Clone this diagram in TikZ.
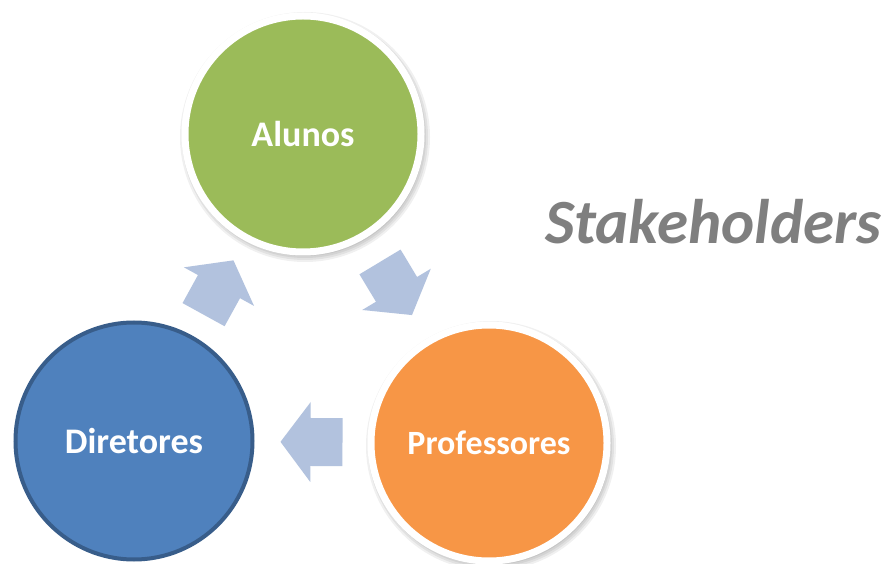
\documentclass[tikz,border=0pt]{standalone}
\usepackage{fontspec}
\setmainfont{Carlito}
\usetikzlibrary{calc}
\definecolor{agreen}{RGB}{155,187,89}
\definecolor{aorange}{RGB}{247,150,70}
\definecolor{ablue}{RGB}{79,129,189}
\definecolor{ablueborder}{RGB}{56,93,138}
\definecolor{aarrow}{RGB}{178,194,222}
\definecolor{atitle}{RGB}{127,127,127}
\tikzset{
  ring/.style={circle, inner sep=0pt, minimum size=236pt, draw=white, line width=7pt,
    text=white, font=\fontsize{36}{42}\selectfont\bfseries},
  plain/.style={circle, inner sep=0pt, minimum size=237pt, draw=ablueborder, line width=4pt,
    fill=ablue, text=white, font=\fontsize{36}{42}\selectfont\bfseries},
  flowarrow/.pic={\fill[aarrow] (-31,-24) -- (1,-24) -- (1,-40) -- (31,0) -- (1,40) -- (1,24) -- (-31,24) -- cycle;},
  shade/.style={fill=black, opacity=0.06, draw=none}
}
\begin{document}
\begin{tikzpicture}[x=1pt,y=1pt]
\useasboundingbox (0,0) rectangle (889,563);
\fill[white] (0,0) rectangle (889,563);
% soft shadows
\foreach \r in {125,123,121,119} {
  \fill[shade] (305,426) circle (\r);
  \fill[shade] (491,117) circle (\r);
}
\node[ring, fill=agreen] (alunos) at (303,429) {Alunos};
\node[ring, fill=aorange, font=\fontsize{34}{40}\selectfont\bfseries] (prof) at (489,120) {Professores};
\node[plain] (dir) at (134,122) {Diretores};
% arrows between nodes
\path let \p1=($(alunos)-(dir)$), \n1={atan2(\y1,\x1)} in
  ($(dir)!0.5!(alunos)$) pic[rotate=\n1] {flowarrow};
\path let \p1=($(prof)-(alunos)$), \n1={atan2(\y1,\x1)} in
  ($(alunos)!0.5!(prof)$) pic[rotate=\n1] {flowarrow};
\path let \p1=($(dir)-(prof)$), \n1={atan2(\y1,\x1)} in
  ($(prof)!0.5!(dir)$) pic[rotate=\n1] {flowarrow};
\node[anchor=base west, inner sep=0pt, text=atitle,
  font=\fontsize{63}{69}\selectfont\bfseries\itshape] (title) at (545,319) {Stakeholders};
\end{tikzpicture}
\end{document}
